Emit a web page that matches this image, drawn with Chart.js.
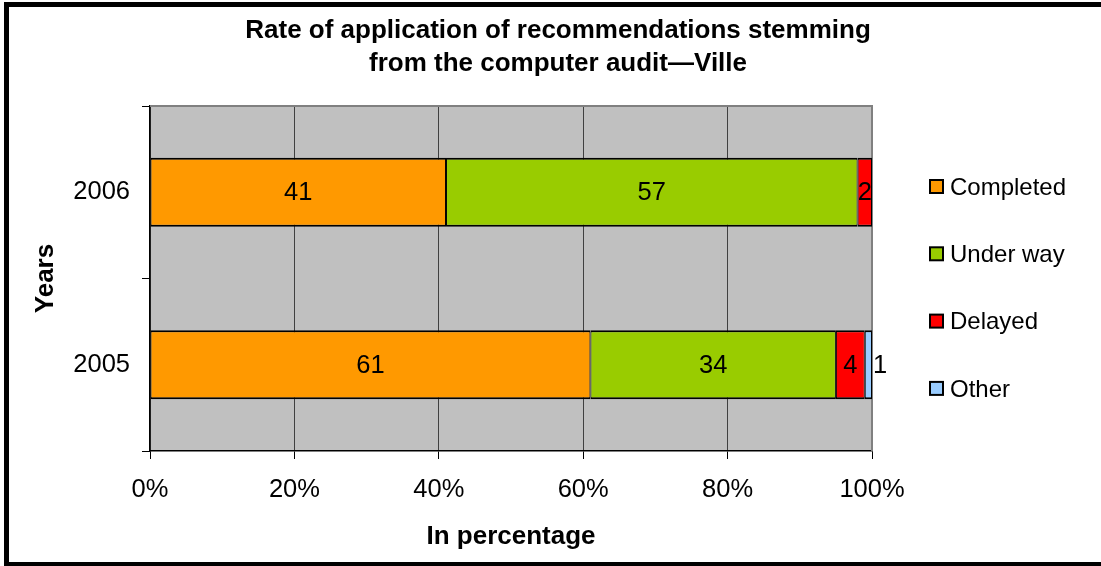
<!DOCTYPE html>
<html>
<head>
<meta charset="utf-8">
<title>Rate of application of recommendations</title>
<script src="https://cdn.jsdelivr.net/npm/chart.js@4.4.1/dist/chart.umd.min.js"></script>
<style>
  html, body { margin: 0; padding: 0; background: #fff; }
  canvas { display: block; }
</style>
</head>
<body>
<canvas id="auditChart" width="1101" height="566"></canvas>
<script>
// Rate of application of recommendations – computer audit, Ville

const years = ["2006", "2005"];
const seriesNames = ["Completed", "Under way", "Delayed", "Other"];
const completed = [41, 61];
const underWay = [57, 34];
const delayed = [2, 4];
const other = [null, 1];
const xTicks = [0, 20, 40, 60, 80, 100];
const titleLines = ["Rate of application of recommendations stemming", "from the computer audit\u2014Ville"];

const seriesColors = ["#ff9900", "#99cc00", "#ff0000", "#99ccff"];
const FAMILY = "'Liberation Sans', Arial, sans-serif";

// grey plot area + its top/right frame
const plotBackground = {
  id: "plotBackground",
  beforeDraw(chart) {
    const { ctx, chartArea: a } = chart;
    ctx.save();
    ctx.fillStyle = "#c0c0c0";
    ctx.fillRect(a.left, a.top, a.right - a.left, a.bottom - a.top);
    ctx.restore();
  },
  beforeDatasetsDraw(chart) {
    const { ctx, chartArea: a } = chart;
    ctx.save();
    ctx.strokeStyle = "#808080";
    ctx.lineWidth = 2;
    ctx.beginPath();
    ctx.moveTo(a.left, a.top);
    ctx.lineTo(a.right, a.top);
    ctx.lineTo(a.right, a.bottom);
    ctx.stroke();
    ctx.restore();
  }
};

// numbers inside each segment (pushed outside when the segment is too thin)
const valueLabels = {
  id: "valueLabels",
  afterDatasetsDraw(chart) {
    const { ctx } = chart;
    ctx.save();
    ctx.font = `25.5px ${FAMILY}`;
    ctx.fillStyle = "#000";
    ctx.textBaseline = "middle";
    chart.data.datasets.forEach((ds, i) => {
      chart.getDatasetMeta(i).data.forEach((bar, j) => {
        const v = ds.data[j];
        if (v == null) return;
        const text = String(v);
        const w = ctx.measureText(text).width;
        const seg = Math.abs(bar.x - bar.base);
        if (w > seg + 2) {
          ctx.textAlign = "left";
          ctx.fillText(text, bar.x + 1, bar.y + 1);
        } else {
          ctx.textAlign = "center";
          ctx.fillText(text, (bar.x + bar.base) / 2, bar.y + 1);
        }
      });
    });
    ctx.restore();
  }
};

// title, legend column and outer frame
const decorations = {
  id: "decorations",
  afterDraw(chart) {
    const { ctx } = chart;
    ctx.save();

    ctx.fillStyle = "#000";
    ctx.textAlign = "center";
    ctx.textBaseline = "middle";
    ctx.font = `bold 26px ${FAMILY}`;
    titleLines.forEach((line, i) => ctx.fillText(line, 558, 31 + i * 33));

    ctx.font = `24px ${FAMILY}`;
    ctx.textAlign = "left";
    chart.data.datasets.forEach((ds, i) => {
      const y = 187 + i * 67.3;
      ctx.fillStyle = ds.backgroundColor;
      ctx.fillRect(930, y - 7, 13, 13);
      ctx.strokeStyle = "#000";
      ctx.lineWidth = 2;
      ctx.strokeRect(930, y - 7, 13, 13);
      ctx.fillStyle = "#000";
      ctx.fillText(ds.label, 950, y + 1);
    });

    ctx.strokeStyle = "#000";
    ctx.lineWidth = 5;
    ctx.strokeRect(6.5, 4.5, 1110, 560);
    ctx.restore();
  }
};

const datasets = [completed, underWay, delayed, other].map((values, i) => ({
  label: seriesNames[i],
  data: values,
  backgroundColor: seriesColors[i],
  borderColor: "#000",
  // thin side borders so neighbouring segments share a 2px divider
  borderWidth: { top: 2, bottom: 2, left: 1, right: 1 },
  borderSkipped: false,
  barPercentage: 0.4,
  categoryPercentage: 1.0
}));

new Chart(document.getElementById("auditChart"), {
  type: "bar",
  data: { labels: years, datasets },
  plugins: [plotBackground, valueLabels, decorations],
  options: {
    indexAxis: "y",
    responsive: false,
    animation: false,
    layout: { padding: { top: 106, right: 229, left: 0, bottom: 0 } },
    plugins: {
      legend: { display: false },
      title: { display: false },
      tooltip: { enabled: false }
    },
    scales: {
      x: {
        stacked: true,
        min: 0,
        max: 100,
        afterBuildTicks: s => { s.ticks = xTicks.map(v => ({ value: v })); },
        ticks: {
          callback: v => v + "%",
          color: "#000",
          font: { family: FAMILY, size: 25.5 },
          padding: 16,
          maxRotation: 0
        },
        grid: { color: "#404040", lineWidth: 1, tickLength: 8, tickColor: "#000" },
        border: { color: "#000", width: 1.5 },
        title: {
          display: true,
          text: "In percentage",
          color: "#000",
          font: { family: FAMILY, size: 26, weight: "bold" },
          padding: { top: 0, bottom: 14 }
        },
        afterFit: s => { s.height = 115; }
      },
      y: {
        stacked: true,
        ticks: { color: "#000", font: { family: FAMILY, size: 25.5 }, padding: 12 },
        grid: { drawOnChartArea: false, tickLength: 8, color: "#000" },
        border: { color: "#000", width: 1.5 },
        title: {
          display: true,
          text: "Years",
          color: "#000",
          font: { family: FAMILY, size: 26, weight: "bold" },
          padding: { top: 30, bottom: 0 }
        },
        afterFit: s => { s.width = 150; }
      }
    }
  }
});
</script>
</body>
</html>
